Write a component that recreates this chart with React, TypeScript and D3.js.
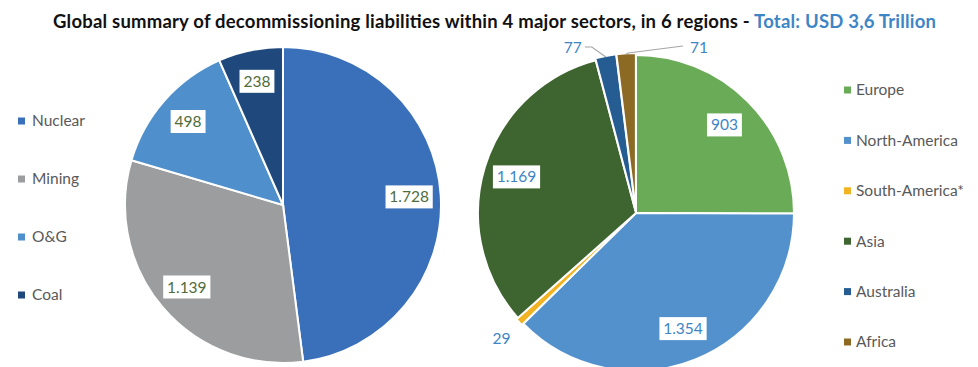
import React from "react";
import * as d3 from "d3";

const sectorNames = ["Nuclear", "Mining", "O&G", "Coal"];
const sectorValues = [1728, 1139, 498, 238];
const sectorColors = ["#3a70b9", "#9c9d9e", "#4f8fcb", "#1f487c"];

const regionNames = ["Europe", "North-America", "South-America*", "Asia", "Australia", "Africa"];
const regionValues = [903, 1354, 29, 1169, 77, 71];
const regionColors = ["#6aab57", "#5391cc", "#f2b322", "#3e6530", "#255d93", "#8c6a24"];

const titleMain = "Global summary of decommissioning liabilities within 4 major sectors, in 6 regions - ";
const titleTotal = "Total: USD 3,6 Trillion";

const locale = d3.formatLocale({ decimal: ",", thousands: ".", grouping: [3], currency: ["", ""] });
const fmt = locale.format(",");

const FONT = "Lato, 'Open Sans', sans-serif";

function BoxLabel({ x, y, text, color }: { x: number; y: number; text: string; color: string }) {
  const digits = text.replace(/\D/g, "").length;
  const dots = text.length - digits;
  const w = digits * 8.3 + dots * 4 + 10;
  const h = 23;
  return (
    <g>
      <rect x={x - w / 2} y={y - h / 2} width={w} height={h} fill="#fff" />
      <text x={x} y={y} dy="0.36em" textAnchor="middle" fontSize={15.5} fill={color} fontFamily={FONT}>
        {text}
      </text>
    </g>
  );
}

export default function App() {
  const pie = d3.pie<number>().sort(null).value((d) => d);
  const r = 158;
  const arc = d3.arc<d3.PieArcDatum<number>>().innerRadius(0).outerRadius(r);

  const lc = { x: 283, y: 205 };
  const rc = { x: 636, y: 213 };
  const leftArcs = pie(sectorValues);
  const rightArcs = pie(regionValues);

  const pt = (a: number, rad: number, c: { x: number; y: number }) => [
    c.x + Math.sin(a) * rad,
    c.y - Math.cos(a) * rad,
  ];

  const leftLabelColor = "#4f6d3c";
  const rightLabelColor = "#3e85c6";
  const smallIdx = [2, 4, 5];

  const sa = rightArcs[2];
  const saMid = (sa.startAngle + sa.endAngle) / 2;
  const [sx, sy] = pt(saMid, r + 26, rc);
  const au = rightArcs[4];
  const auMid = (au.startAngle + au.endAngle) / 2;
  const [aux0, auy0] = pt(auMid, r + 1, rc);
  const af = rightArcs[5];
  const afMid = (af.startAngle + af.endAngle) / 2;
  const [afx0, afy0] = pt(afMid, r + 1, rc);

  return (
    <svg width={978} height={367} style={{ position: "absolute", left: 0, top: 0, background: "#fff" }}>
      <text
        x={53}
        y={28}
        fontSize={18.5}
        fontWeight="bold"
        fontFamily={FONT}
        textLength={883}
        lengthAdjust="spacing"
      >
        <tspan fill="#111">{titleMain}</tspan>
        <tspan fill="#3e85c6">{titleTotal}</tspan>
      </text>

      <g transform={`translate(${lc.x},${lc.y})`}>
        {leftArcs.map((d, i) => (
          <path key={i} d={arc(d) || ""} fill={sectorColors[i]} stroke="#fff" strokeWidth={2} />
        ))}
      </g>
      {leftArcs.map((d, i) => {
        const m = (d.startAngle + d.endAngle) / 2;
        const [x, y] = pt(m, r * 0.8, lc);
        return <BoxLabel key={i} x={x} y={y} text={fmt(d.data)} color={leftLabelColor} />;
      })}

      {rightArcs.map((d, i) => {
        const m = (d.startAngle + d.endAngle) / 2;
        const off = smallIdx.includes(i) ? 2 : 0;
        const dx = Math.sin(m) * off;
        const dy = -Math.cos(m) * off;
        return (
          <path
            key={i}
            transform={`translate(${rc.x + dx},${rc.y + dy})`}
            d={arc(d) || ""}
            fill={regionColors[i]}
            stroke="#fff"
            strokeWidth={2}
          />
        );
      })}
      {rightArcs.map((d, i) => {
        if (smallIdx.includes(i)) return null;
        const m = (d.startAngle + d.endAngle) / 2;
        const [x, y] = pt(m, r * 0.79, rc);
        return <BoxLabel key={i} x={x} y={y} text={fmt(d.data)} color={rightLabelColor} />;
      })}

      <text x={sx} y={sy} dy="0.36em" textAnchor="middle" fontSize={15.5} fill={rightLabelColor} fontFamily={FONT}>
        {fmt(regionValues[2])}
      </text>

      <polyline
        points={`${aux0},${auy0} ${aux0 - 14},${47} ${aux0 - 21},${47}`}
        fill="none"
        stroke="#a6a6a6"
        strokeWidth={1.2}
      />
      <text x={aux0 - 24} y={47} dy="0.36em" textAnchor="end" fontSize={15.5} fill={rightLabelColor} fontFamily={FONT}>
        {fmt(regionValues[4])}
      </text>

      <polyline
        points={`${afx0},${afy0} ${afx0 + 2},${53} ${683},${46}`}
        fill="none"
        stroke="#a6a6a6"
        strokeWidth={1.2}
      />
      <text x={690} y={47} dy="0.36em" textAnchor="start" fontSize={15.5} fill={rightLabelColor} fontFamily={FONT}>
        {fmt(regionValues[5])}
      </text>

      {sectorNames.map((n, i) => {
        const y = 121 + i * 58;
        return (
          <g key={n}>
            <rect x={18} y={y - 3.5} width={7} height={7} fill={sectorColors[i]} />
            <text x={32} y={y} dy="0.35em" fontSize={15.5} fill="#595959" fontFamily={FONT}>
              {n}
            </text>
          </g>
        );
      })}

      {regionNames.map((n, i) => {
        const y = 90 + i * 50.4;
        return (
          <g key={n}>
            <rect x={844} y={y - 3.5} width={7} height={7} fill={regionColors[i]} />
            <text x={856} y={y} dy="0.35em" fontSize={15.5} fill="#595959" fontFamily={FONT}>
              {n}
            </text>
          </g>
        );
      })}
    </svg>
  );
}
